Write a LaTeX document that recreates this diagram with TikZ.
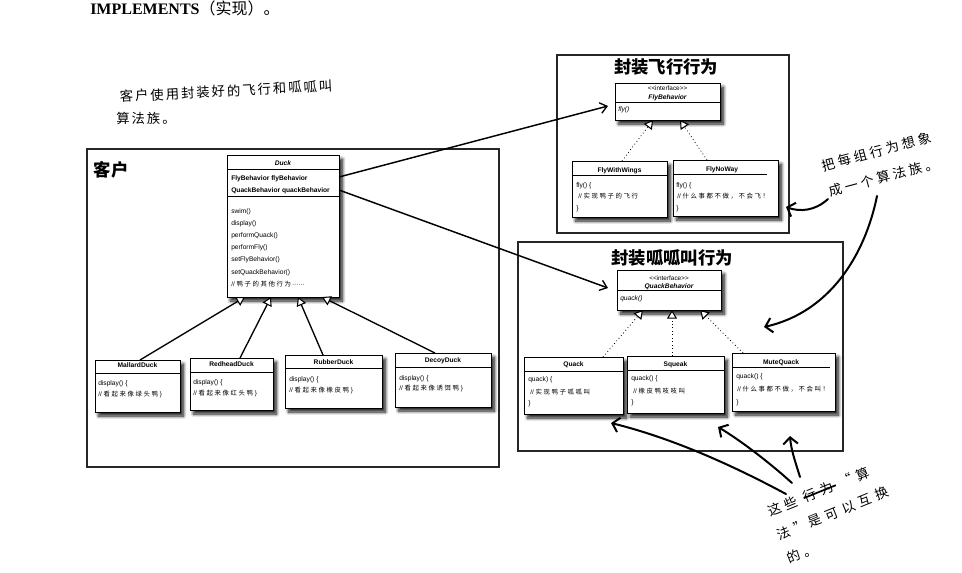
\documentclass[tikz,border=0pt]{standalone}
\usepackage{fontspec}
\setmainfont{Liberation Serif}
\setsansfont{Liberation Sans}
\newfontfamily\cjk{Noto Sans CJK SC}
\newfontfamily\cjks{Noto Sans CJK SC}[LetterSpace=25]
\newfontfamily\handa{Noto Sans CJK SC}[LetterSpace=15]
\newfontfamily\handb{Noto Sans CJK SC}[LetterSpace=25]
\newfontfamily\handc{Noto Sans CJK SC}[LetterSpace=35]
\usetikzlibrary{arrows.meta,shadows.blur,fit}
\newcommand\ubox[5]{\coordinate (#1-nw) at (#2,#3); \coordinate (#1-se) at (#4,#5);
  \node[classbox, fit=(#1-nw)(#1-se)] (#1) {};}
\newcommand\umlline[4]{\node[#1, anchor=base west] (#2) at #3 {#4};}
\newcommand\umlname[3]{\node[clsb, anchor=base] (#1) at #2 {#3};}
\newcommand\stereotxt{{<}{<}interface{>}{>}}
\begin{document}
\begin{tikzpicture}[x=0.75pt,y=-0.75pt,
  classbox/.style={draw=black, line width=0.6pt, fill=white, inner sep=0pt,
    blur shadow={shadow xshift=2.6pt, shadow yshift=-3pt, shadow blur steps=8, shadow blur radius=2.4pt, shadow opacity=90}},
  sepl/.style={line width=0.5pt},
  cls/.style={inner sep=0pt, font=\sffamily\fontsize{5}{6}\selectfont},
  clsb/.style={cls, font=\sffamily\bfseries\fontsize{5}{6}\selectfont},
  clsbi/.style={cls, font=\sffamily\bfseries\itshape\fontsize{5}{6}\selectfont},
  clsi/.style={cls, font=\sffamily\itshape\fontsize{5}{6}\selectfont},
  stereo/.style={inner sep=0pt, font=\sffamily\fontsize{4.8}{5}\selectfont},
  cmt/.style={inner sep=0pt, font=\sffamily\fontsize{4.8}{6}\selectfont},
  grp/.style={draw=black!85, line width=1pt, inner sep=0pt},
  grptitle/.style={inner sep=0pt, font=\cjk\bfseries\fontsize{13}{15}\selectfont},
  handtxt/.style={inner sep=0pt, font=\fontsize{10}{19}\selectfont},
  assoc/.style={line width=1.1pt, -{Straight Barb[length=5pt,width=8pt,line width=1pt]}},
  inh/.style={line width=1pt, -{Triangle[length=6.5pt,width=7.5pt,fill=white,line width=0.8pt]}},
  real/.style={line width=0.6pt, dotted, -{Triangle[length=6.5pt,width=7.5pt,fill=white,line width=0.8pt]}},
  hand/.style={line width=1.5pt, line cap=round, -{Straight Barb[length=5pt,width=11pt,line width=1.5pt]}}
]
\useasboundingbox (0,0) rectangle (962,572);

% top caption
\node[anchor=base west, inner sep=0pt, font=\fontsize{12}{14}\selectfont] (impl) at (90,14) {\textbf{IMPLEMENTS}{\cjk （实现）。}};

% note 1
\node[handtxt, font=\handa\fontsize{10}{12}\selectfont, rotate=3] (note1a) at (226,91) {客户使用封装好的飞行和呱呱叫};
\node[handtxt, font=\handa\fontsize{10}{12}\selectfont, anchor=west] (note1b) at (116,118) {算法族。};

% client group
\coordinate (cl-nw) at (87,149); \coordinate (cl-se) at (499,467);
\node[grp, fit=(cl-nw)(cl-se)] (client) {};
\node[grptitle] (clientlbl) at (111,170) {客户};

% Duck
\ubox{duck}{227}{155}{339}{297}
\draw[sepl] (227,169) -- (339,169);
\draw[sepl] (227,196) -- (339,196);
\node[clsbi, anchor=base] (duckn) at (283,165) {Duck};
\umlline{clsb}{df1}{(231,180.5)}{FlyBehavior flyBehavior}
\umlline{clsb}{df2}{(231,192)}{QuackBehavior quackBehavior}
\umlline{cls}{dm1}{(231,213)}{swim()}
\umlline{cls}{dm2}{(231,225.2)}{display()}
\umlline{cls}{dm3}{(231,237.4)}{performQuack()}
\umlline{cls}{dm4}{(231,249.6)}{performFly()}
\umlline{cls}{dm5}{(231,261.8)}{setFlyBehavior()}
\umlline{cls}{dm6}{(231,274)}{setQuackBehavior()}
\umlline{cmt}{dm7}{(231,286.2)}{// {\cjks 鸭子的其他行为}\,······}

% duck subclasses
\ubox{mallard}{95}{360}{180}{412}
\draw[sepl] (95,373) -- (180,373);
\umlname{mallardn}{(137.5,367.5)}{MallardDuck}
\umlline{cls}{ml1}{(98,385.5)}{display() \{}
\umlline{cmt}{ml2}{(98,396)}{// {\cjks 看起来像绿头鸭} \}}

\ubox{redhead}{190}{358}{273}{410}
\draw[sepl] (190,372) -- (273,372);
\umlname{redheadn}{(231.5,366.5)}{RedheadDuck}
\umlline{cls}{rh1}{(193,384.5)}{display() \{}
\umlline{cmt}{rh2}{(193,395.5)}{// {\cjks 看起来像红头鸭} \}}

\ubox{rubber}{285}{355}{382}{408}
\draw[sepl] (285,368) -- (382,368);
\umlname{rubbern}{(333.5,364.5)}{RubberDuck}
\umlline{cls}{rb1}{(289,381.5)}{display() \{}
\umlline{cmt}{rb2}{(289,392.5)}{// {\cjks 看起来像橡皮鸭} \}}

\ubox{decoy}{395}{353}{491}{407}
\draw[sepl] (395,367) -- (491,367);
\umlname{decoyn}{(443,362.5)}{DecoyDuck}
\umlline{cls}{dc1}{(399,380.5)}{display() \{}
\umlline{cmt}{dc2}{(399,390.5)}{// {\cjks 看起来像诱饵鸭} \}}

% inheritance arrows
\coordinate (mallard-t) at (140,360);
\coordinate (redhead-t) at (240,358);
\coordinate (rubber-t) at (323,355);
\coordinate (decoy-t) at (435,353);
\coordinate (duck-b1) at (245,297);
\coordinate (duck-b2) at (271,297);
\coordinate (duck-b3) at (298,297);
\coordinate (duck-b4) at (322,297);
\draw[inh] (mallard-t) -- (duck-b1);
\draw[inh] (redhead-t) -- (duck-b2);
\draw[inh] (rubber-t) -- (duck-b3);
\draw[inh] (decoy-t) -- (duck-b4);

% fly group
\coordinate (fg-nw) at (557,55); \coordinate (fg-se) at (789,233);
\node[grp, fit=(fg-nw)(fg-se)] (flygrp) {};
\node[grptitle] (flytitle) at (666,67) {封装飞行行为};

\ubox{flyb}{615}{83}{720}{120}
\draw[sepl] (615,102) -- (720,102);
\node[stereo, anchor=base] (flybs) at (667.5,90) {\stereotxt};
\node[clsbi, anchor=base] (flybn) at (667.5,99) {FlyBehavior};
\umlline{clsi}{flyb1}{(618,111.5)}{fly()}

\ubox{fww}{572}{161}{667}{217}
\draw[sepl] (572,175) -- (667,175);
\umlname{fwwn}{(619.5,172.5)}{FlyWithWings}
\umlline{cls}{fw1}{(576,187)}{fly() \{}
\umlline{cmt}{fw2}{(578,198.5)}{// {\cjks 实现鸭子的飞行}}
\umlline{cls}{fw3}{(576,210.5)}{\}}

\ubox{fnw}{673}{160}{778}{216}
\draw[sepl] (673,174) -- (767,174);
\umlname{fnwn}{(722,171.5)}{FlyNoWay}
\umlline{cls}{fn1}{(676,187)}{fly() \{}
\umlline{cmt}{fn2}{(677,198.5)}{// {\cjks 什么事都不做，不会飞！}}
\umlline{cls}{fn3}{(676,210.5)}{\}}

\coordinate (fww-t) at (622,161);
\coordinate (fnw-t) at (707,160);
\coordinate (flyb-b1) at (653,120);
\coordinate (flyb-b2) at (680,120);
\draw[real] (fww-t) -- (flyb-b1);
\draw[real] (fnw-t) -- (flyb-b2);

% quack group
\coordinate (qg-nw) at (518,242); \coordinate (qg-se) at (843,451);
\node[grp, fit=(qg-nw)(qg-se)] (quackgrp) {};
\node[grptitle] (quacktitle) at (672,258) {封装呱呱叫行为};

\ubox{qb}{617}{270}{721}{310}
\draw[sepl] (617,290) -- (721,290);
\node[stereo, anchor=base] (qbs) at (669,280) {\stereotxt};
\node[clsbi, anchor=base] (qbn) at (669,288.5) {QuackBehavior};
\umlline{clsi}{qb1}{(620,300.5)}{quack()}

\ubox{qk}{524}{357}{623}{414}
\draw[sepl] (524,371) -- (623,371);
\umlname{qkn}{(573.5,366.5)}{Quack}
\umlline{cls}{qk1}{(528,381)}{quack) \{}
\umlline{cmt}{qk2}{(530,394)}{// {\cjks 实现鸭子呱呱叫}}
\umlline{cls}{qk3}{(528,405)}{\}}

\ubox{sq}{627}{356}{724}{413}
\draw[sepl] (627,370) -- (724,370);
\umlname{sqn}{(675.5,366)}{Squeak}
\umlline{cls}{sq1}{(631,380.5)}{quack() \{}
\umlline{cmt}{sq2}{(633,393.5)}{// {\cjks 橡皮鸭吱吱叫}}
\umlline{cls}{sq3}{(631,404.5)}{\}}

\ubox{mq}{732}{353}{835}{411}
\draw[sepl] (732,367) -- (830,367);
\umlname{mqn}{(781,364.5)}{MuteQuack}
\umlline{cls}{mq1}{(736,378)}{quack() \{}
\umlline{cmt}{mq2}{(737,391)}{// {\cjks 什么事都不做，不会叫！}}
\umlline{cls}{mq3}{(736,404)}{\}}

\coordinate (qk-t) at (603,357);
\coordinate (sq-t) at (672,356);
\coordinate (mq-t) at (743,353);
\coordinate (qb-b1) at (643,310);
\coordinate (qb-b2) at (672,310);
\coordinate (qb-b3) at (700,310);
\draw[real] (qk-t) -- (qb-b1);
\draw[real] (sq-t) -- (qb-b2);
\draw[real] (mq-t) -- (qb-b3);

% associations
\coordinate (duck-fly) at (339,177);
\coordinate (duck-quack) at (339,190);
\coordinate (flyb-in) at (608,106);
\coordinate (qb-in) at (608,288);
\draw[assoc] (duck-fly) -- (flyb-in);
\draw[assoc] (duck-quack) -- (qb-in);

% note 2 (anchor = start of last line)
\node[inner sep=0pt, font=\handb\fontsize{10}{20}\selectfont, rotate=15, anchor=base west, align=left] (note2) at (830,197) {把每组行为想象\\成一个算法族。};
\coordinate (n2a) at (828,199);
\coordinate (fnw-in) at (786,207);
\draw[hand] (n2a) .. controls (815,211) and (800,212) .. (fnw-in);
\coordinate (n2b) at (877,196);
\coordinate (qg-in) at (764,327);
\draw[hand] (n2b) .. controls (865,255) and (830,312) .. (qg-in);

% note 3 (anchor = start of last line)
\node[inner sep=0pt, font=\handc\fontsize{10}{19}\selectfont, rotate=22, anchor=base west, align=left] (note3) at (789,564) {这些\hspace{0.5em}\makebox[0pt][l]{\rule[0.3em]{2.6em}{0.13em}}行为\hspace{0.6em}“算\\法”\,是可以互换\\的。};
\coordinate (n3a) at (786,494);
\coordinate (n3b) at (792,483);
\coordinate (n3c) at (800,477);
\coordinate (qk-in) at (611,423);
\coordinate (sq-in) at (718,427);
\coordinate (mq-in) at (790,436);
\draw[hand] (n3a) .. controls (745,472) and (680,440) .. (qk-in);
\draw[hand] (n3b) .. controls (770,463) and (740,440) .. (sq-in);
\draw[hand] (n3c) .. controls (796,464) and (791,450) .. (mq-in);
\end{tikzpicture}
\end{document}
